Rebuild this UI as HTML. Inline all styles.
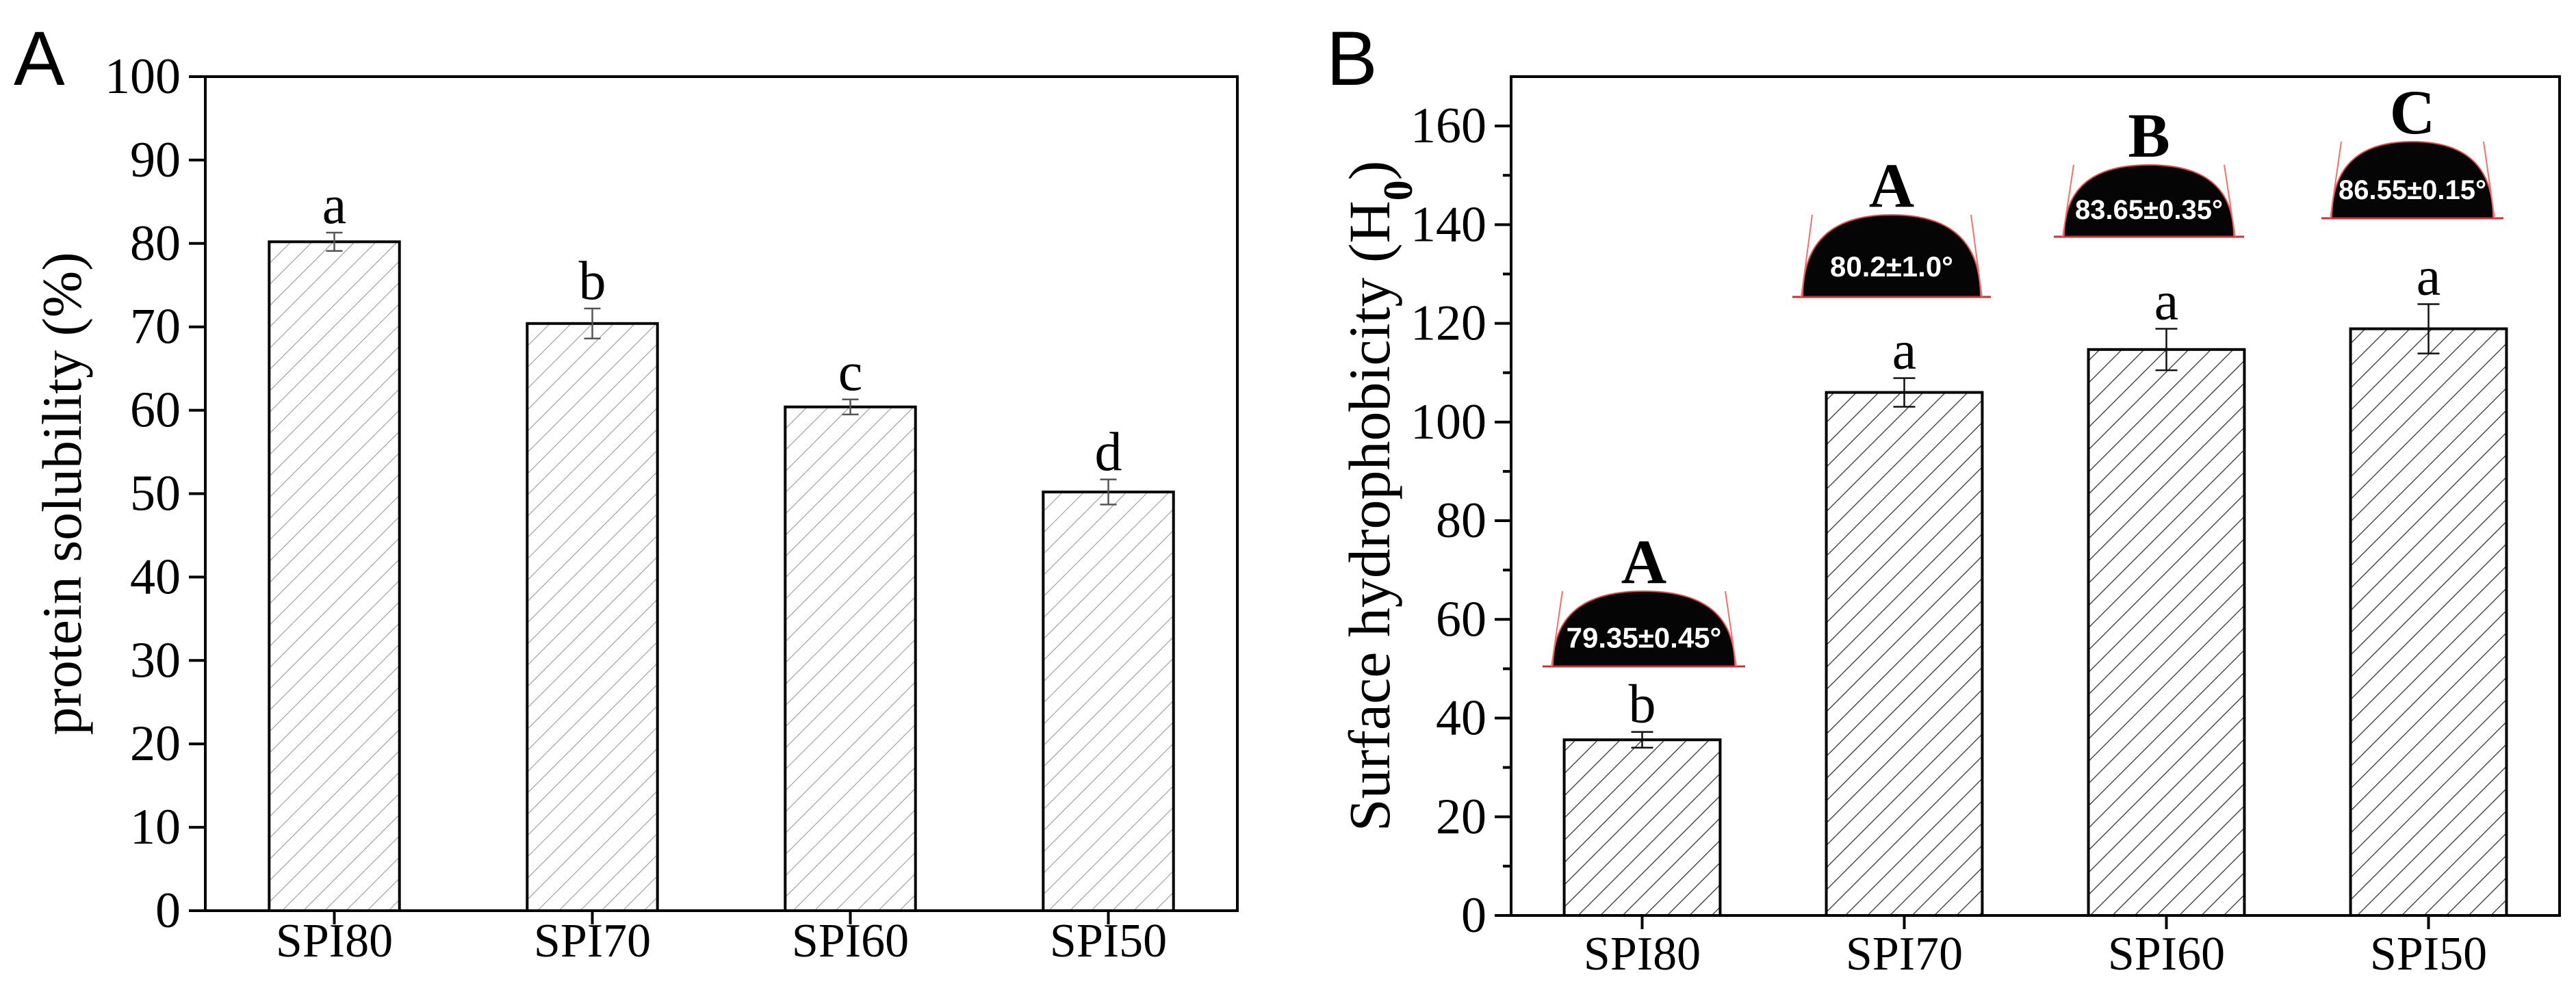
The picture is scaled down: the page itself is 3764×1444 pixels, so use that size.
<!DOCTYPE html>
<html><head><meta charset="utf-8"><style>
html,body{margin:0;padding:0;background:#fff}
svg{display:block}
text{font-family:"Liberation Serif",serif;fill:#000}
.sans{font-family:"Liberation Sans",sans-serif}
</style></head>
<body>
<svg id="fig" width="3764" height="1444" viewBox="0 0 3764 1444" xmlns="http://www.w3.org/2000/svg">
<defs>
<pattern id="hatchA" patternUnits="userSpaceOnUse" width="22" height="22" patternTransform="rotate(45)">
<line x1="0" y1="0" x2="0" y2="22" stroke="#9a9a9a" stroke-width="2.2"/>
</pattern>
<pattern id="hatchB" patternUnits="userSpaceOnUse" width="23" height="23" patternTransform="rotate(45)">
<line x1="0" y1="0" x2="0" y2="23" stroke="#333" stroke-width="2.6"/>
</pattern>
</defs>
<text x="20" y="124" class="sans" font-size="112">A</text>
<text x="1938" y="124" class="sans" font-size="112">B</text>
<g id="chartA"></g>
<g id="chartB"></g>
</svg>
<script>
const categories = ["SPI80","SPI70","SPI60","SPI50"];
const solubility = [80.2, 70.4, 60.4, 50.2];
const solubilityErr = [1.1, 1.8, 0.9, 1.5];
const solubilityLetters = ["a","b","c","d"];
const ticksA = [0,10,20,30,40,50,60,70,80,90,100];
const hydro = [35.6, 106.0, 114.7, 118.9];
const hydroErr = [1.6, 2.9, 4.2, 5.0];
const hydroLetters = ["b","a","a","a"];
const ticksB = [0,20,40,60,80,100,120,140,160];
const minorTicksB = [10,30,50,70,90,110,130,150,170];
const angles = ["79.35±0.45°","80.2±1.0°","83.65±0.35°","86.55±0.15°"];
const angleLetters = ["A","A","B","C"];

const NS = "http://www.w3.org/2000/svg";
function mk(parent, tag, attrs, txt){
  const e = document.createElementNS(NS, tag);
  for (const k in attrs) e.setAttribute(k, attrs[k]);
  if (txt !== undefined) e.textContent = txt;
  parent.appendChild(e);
  return e;
}

function drawChart(g, cfg){
  const {L,R,T,B,ymax,vals,errs,letters,ticks,minor,barFrac,hatch,errColor,cap,title,titleX,titleSize,labelBase} = cfg;
  const y = v => B - (v/ymax)*(B-T);
  const step = (R-L)/categories.length;
  const xc = i => L + step*(i+0.5);
  const bw = step*barFrac;
  vals.forEach((v,i)=>{
    const r = mk(g,'rect',{x:xc(i)-bw/2,y:y(v),width:bw,height:B-y(v),fill:'url(#'+hatch+')',stroke:'#000','stroke-width':4});
    
    
    const eg = mk(g,'g',{stroke:errColor,'stroke-width':2.5});
    
    
    mk(eg,'line',{x1:xc(i),x2:xc(i),y1:y(v+errs[i]),y2:y(v-errs[i])});
    mk(eg,'line',{x1:xc(i)-cap,x2:xc(i)+cap,y1:y(v+errs[i]),y2:y(v+errs[i])});
    mk(eg,'line',{x1:xc(i)-cap,x2:xc(i)+cap,y1:y(v-errs[i]),y2:y(v-errs[i])});
    const t = mk(g,'text',{x:xc(i),y:y(v+errs[i])-14,'font-size':80,'text-anchor':'middle'},letters[i]);
    
    
    mk(g,'line',{x1:xc(i),x2:xc(i),y1:B,y2:B+20,stroke:'#000','stroke-width':4});
    const xl = mk(g,'text',{x:xc(i),y:labelBase,'font-size':70,'text-anchor':'middle'},categories[i]);
    
    
  });
  ticks.forEach(v=>{
    mk(g,'line',{x1:L-24,x2:L,y1:y(v),y2:y(v),stroke:'#000','stroke-width':4});
    const tl = mk(g,'text',{x:L-36,y:y(v)+24,'font-size':74,'text-anchor':'end'},String(v));
    
    
  });
  minor.forEach(v=>{
    if (v<ymax) mk(g,'line',{x1:L-12,x2:L,y1:y(v),y2:y(v),stroke:'#000','stroke-width':4});
  });
  const fr = mk(g,'rect',{x:L,y:T,width:R-L,height:B-T,fill:'none',stroke:'#000','stroke-width':4});
  
  
  const ty = (T+B)/2;
  const tt = mk(g,'text',{x:titleX,y:ty,'font-size':titleSize,'text-anchor':'middle',transform:'rotate(-90 '+titleX+' '+ty+')'});
  
  
  tt.innerHTML = title;
  return {y,xc};
}

drawChart(document.getElementById('chartA'),{L:300,R:1808,T:112,B:1331,ymax:100,vals:solubility,errs:solubilityErr,letters:solubilityLetters,ticks:ticksA,minor:[],barFrac:0.505,hatch:'hatchA',errColor:'#555',cap:12,title:'protein solubility (%)',titleX:118,titleSize:82,labelBase:1398});

const gB = document.getElementById('chartB');
const axB = drawChart(gB,{L:2208,R:3740,T:112,B:1338,ymax:170,vals:hydro,errs:hydroErr,letters:hydroLetters,ticks:ticksB,minor:minorTicksB,barFrac:0.595,hatch:'hatchB',errColor:'#111',cap:16,title:'Surface hydrophobicity (H<tspan baseline-shift="sub" font-size="60" font-weight="bold">0</tspan>)',titleX:2030,titleSize:86,labelBase:1417});

// droplet inset geometry (image insets, not data)
const drops = [
  {cx:2402,base:974,hw:133,h:110,fs:42},
  {cx:2764,base:434,hw:130,h:120,fs:42},
  {cx:3140,base:346,hw:124,h:105,fs:40},
  {cx:3525,base:319,hw:118,h:112,fs:40}
];
drops.forEach((d,i)=>{
  const dg = mk(gB,'g',{});
  
  
  const p = 'M'+(d.cx-d.hw)+','+d.base+' C'+(d.cx-d.hw)+','+(d.base-d.h*0.78)+' '+(d.cx-d.hw*0.55)+','+(d.base-d.h)+' '+d.cx+','+(d.base-d.h)+' C'+(d.cx+d.hw*0.55)+','+(d.base-d.h)+' '+(d.cx+d.hw)+','+(d.base-d.h*0.78)+' '+(d.cx+d.hw)+','+d.base+' Z';
  mk(dg,'path',{d:p,fill:'#050505',stroke:'#e05050','stroke-width':2});
  mk(dg,'line',{x1:d.cx-d.hw-15,x2:d.cx+d.hw+15,y1:d.base,y2:d.base,stroke:'#d03030','stroke-width':3});
  mk(dg,'line',{x1:d.cx-d.hw+14,x2:d.cx-d.hw-2,y1:d.base-d.h,y2:d.base,stroke:'#f07070','stroke-width':2});
  mk(dg,'line',{x1:d.cx+d.hw-14,x2:d.cx+d.hw+2,y1:d.base-d.h,y2:d.base,stroke:'#f07070','stroke-width':2});
  const at = mk(dg,'text',{x:d.cx,y:d.base-d.h*0.25,'font-size':d.fs,'font-weight':'bold','text-anchor':'middle',class:'sans',style:'fill:#fff'},angles[i]);
  
  
  const lt = mk(dg,'text',{x:d.cx,y:d.base-d.h-12,'font-size':92,'font-weight':'bold','text-anchor':'middle'},angleLetters[i]);
  
  
});
</script>
</body></html>
